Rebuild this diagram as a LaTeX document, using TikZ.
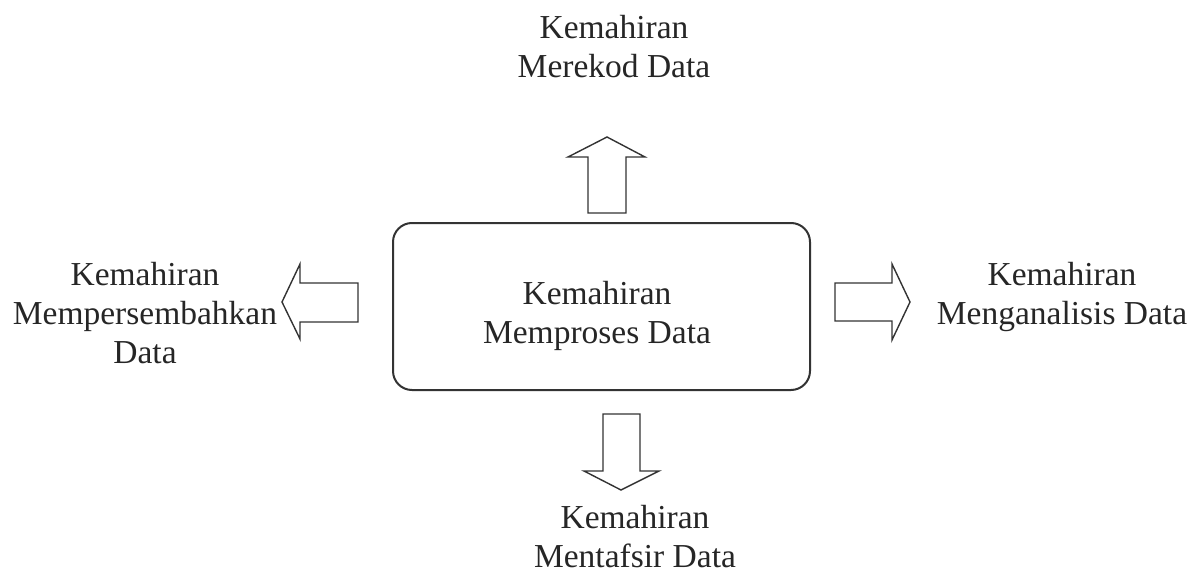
\documentclass[tikz,border=0pt]{standalone}
\usepackage{fontspec}
\setmainfont{Liberation Serif}
\begin{document}
\begin{tikzpicture}[x=1pt,y=-1pt,
  lbl/.style={inner sep=0pt, anchor=north, align=center, font=\fontsize{33.5}{39}\selectfont, text=black!85},
  blockarrow/.style={draw=black!80, line width=1.4pt, fill=white, line join=miter},
  mainbox/.style={draw=black!80, line width=2pt, rounded corners=19pt}]
\useasboundingbox (0,0) rectangle (1195,575);
% central box
\draw[mainbox] (393,223) rectangle (810,390);
\node[lbl] (proc) at (597,281) {Kemahiran\\Memproses Data};
% labels
\node[lbl] (rekod) at (614,15) {Kemahiran\\Merekod Data};
\node[lbl] (persem) at (145,262) {Kemahiran\\Mempersembahkan\\Data};
\node[lbl] (anal) at (1062,262) {Kemahiran\\Menganalisis Data};
\node[lbl] (tafsir) at (635,505) {Kemahiran\\Mentafsir Data};
% up arrow
\draw[blockarrow] (588,213) -- (588,157) -- (568,157) -- (607,137) -- (645,157) -- (626,157) -- (626,213) -- cycle;
% left arrow
\draw[blockarrow] (358,283) -- (300,283) -- (300,264) -- (282,302) -- (300,339) -- (300,322) -- (358,322) -- cycle;
% right arrow
\draw[blockarrow] (835,283) -- (892,283) -- (892,264) -- (910,302) -- (892,340) -- (892,321) -- (835,321) -- cycle;
% down arrow
\draw[blockarrow] (603,414) -- (640,414) -- (640,471) -- (659,471) -- (621,490) -- (584,471) -- (603,471) -- cycle;
\end{tikzpicture}
\end{document}
